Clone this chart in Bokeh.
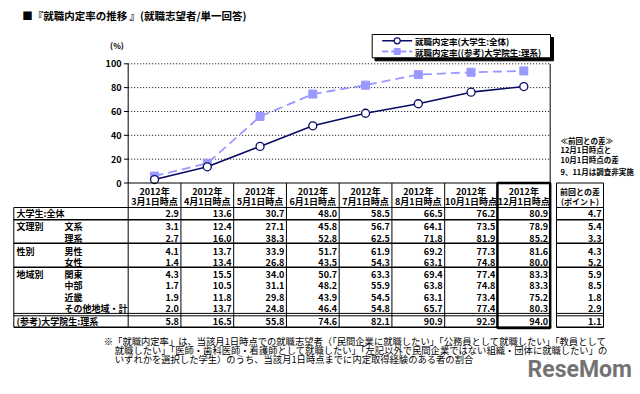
from bokeh.plotting import figure
from bokeh.models import Range1d, ColumnDataSource
from bokeh.core.properties import value
from bokeh.embed import file_html
from bokeh.resources import INLINE

# ---------------- data ----------------
year_label = "2012年"
months = ["3月1日時点", "4月1日時点", "5月1日時点", "6月1日時点",
          "7月1日時点", "8月1日時点", "10月1日時点", "12月1日時点"]
y_ticks = [0, 20, 40, 60, 80, 100]

rate_all = [2.9, 13.6, 30.7, 48.0, 58.5, 66.5, 76.2, 80.9]          # 大学生:全体
rate_humanities = [3.1, 12.4, 27.1, 45.8, 56.7, 64.1, 73.5, 78.9]   # 文系
rate_science = [2.7, 16.0, 38.3, 52.8, 62.5, 71.8, 81.9, 85.2]      # 理系
rate_male = [4.1, 13.7, 33.9, 51.7, 61.9, 69.2, 77.3, 81.6]         # 男性
rate_female = [1.4, 13.4, 26.8, 43.5, 54.3, 63.1, 74.8, 80.0]       # 女性
rate_kanto = [4.3, 15.5, 34.0, 50.7, 63.3, 69.4, 77.4, 83.3]        # 関東
rate_chubu = [1.7, 10.5, 31.1, 48.2, 55.9, 63.8, 74.8, 83.3]        # 中部
rate_kinki = [1.9, 11.8, 29.8, 43.9, 54.5, 63.1, 73.4, 75.2]        # 近畿
rate_other = [2.0, 13.7, 24.8, 46.4, 54.8, 65.7, 77.4, 80.3]        # その他地域・計
rate_grad = [5.8, 16.5, 55.8, 74.6, 82.1, 90.9, 92.9, 94.0]         # (参考)大学院生:理系
diff_points = [4.7, 5.4, 3.3, 4.3, 5.2, 5.9, 8.5, 1.8, 2.9, 1.1]

group_labels = ["大学生:全体", "文理別", "", "性別", "", "地域別", "", "", "", "(参考)大学院生:理系"]
sub_labels = ["", "文系", "理系", "男性", "女性", "関東", "中部", "近畿", "その他地域・計", ""]

series_names = ["就職内定率(大学生:全体)", "就職内定率((参考)大学院生:理系)"]
title_text = "■『就職内定率の推移 』(就職志望者/単一回答)"
unit_text = "(%)"
side_notes = ["≪前回との差≫", "12月1日時点と", "10月1日時点の差", "9、11月は調査非実施"]
diff_header = ["前回との差", "(ポイント)"]
footnote = [
    "※「就職内定率」は、当該月1日時点での就職志望者（「民間企業に就職したい」「公務員として就職したい」「教員として",
    "就職したい」「医師・歯科医師・看護師として就職したい」「左記以外で民間企業ではない組織・団体に就職したい」の",
    "いずれかを選択した学生）のうち、当該月1日時点までに内定取得経験のある者の割合",
]
watermark = "ReseMom"

table_rows = [rate_all, rate_humanities, rate_science, rate_male, rate_female,
              rate_kanto, rate_chubu, rate_kinki, rate_other, rate_grad]

# ---------------- layout ----------------
JP = "Noto Sans CJK JP"
NAVY = "#0b0b66"
LAV = "#9999ff"

W, H = 640, 394
COL_X0, COL_W = 154.05, 52.75          # pixel centre of first column, column width
PCT_Y0, PCT_PX = 182.5, 1.192          # pixel of 0 %, pixels per %

p = figure(width=W, height=H, output_backend="svg", toolbar_location=None,
           x_range=Range1d(0, W), y_range=Range1d(H, 0),
           x_axis_location=None, y_axis_location=None, min_border=0,
           outline_line_color=None, background_fill_color="white",
           border_fill_color="white")
p.grid.visible = False
p.extra_x_ranges = {"col": Range1d((0 - COL_X0) / COL_W, (W - COL_X0) / COL_W)}
p.extra_y_ranges = {"pct": Range1d((PCT_Y0 - H) / PCT_PX, (PCT_Y0 - 0) / PCT_PX)}


def txt(xs, ys, texts, size, align="left", xr="default", yr="default",
        color="black", weight="bold", font=JP, x_offset=0):
    src = ColumnDataSource(dict(x=list(xs), y=list(ys), t=list(texts)))
    p.text(x="x", y="y", text="t", source=src, text_font=value(font),
           text_font_size=value(f"{size}px"), text_font_style=weight,
           text_align=align, text_baseline="middle", text_color=color,
           x_range_name=xr, y_range_name=yr, x_offset=x_offset)


ncol = len(months)
idx = list(range(ncol))
col_edges = [i - 0.5 for i in range(ncol + 1)]

# ---- chart grid / frame ----
grid_vals = y_ticks[1:]
p.segment(x0=[-0.5] * len(grid_vals), x1=[ncol - 0.5] * len(grid_vals), y0=grid_vals, y1=grid_vals,
          x_range_name="col", y_range_name="pct", line_color="black", line_width=1, line_dash="1 2")
p.segment(x0=[-0.5, ncol - 0.5], x1=[-0.5, ncol - 0.5], y0=[0, 0], y1=[y_ticks[-1], y_ticks[-1]],
          x_range_name="col", y_range_name="pct", line_color="black", line_width=1)
# tick marks
p.segment(x0=[123.5] * len(y_ticks), x1=[127.7] * len(y_ticks), y0=y_ticks, y1=y_ticks,
          y_range_name="pct", line_color="black", line_width=1)
txt([121] * len(y_ticks), y_ticks, [str(t) for t in y_ticks], 9, align="right", yr="pct")
txt([116.5], [45], [unit_text], 8, align="center")

# ---- series ----
p.line(x=idx, y=rate_grad, x_range_name="col", y_range_name="pct",
       line_color=LAV, line_width=1.8, line_dash="9 5")
p.scatter(x=idx, y=rate_grad, x_range_name="col", y_range_name="pct",
          marker="square", size=8, fill_color=LAV, line_color=LAV)
p.line(x=idx, y=rate_all, x_range_name="col", y_range_name="pct",
       line_color=NAVY, line_width=1.6)
p.scatter(x=idx, y=rate_all, x_range_name="col", y_range_name="pct",
          marker="circle", size=8, fill_color="white", line_color=NAVY, line_width=1.3)

# ---- legend ----
p.quad(left=[374.5], right=[553], top=[37], bottom=[60.3], fill_color="black", line_color="black")
p.quad(left=[371.7], right=[550], top=[34], bottom=[57.3], fill_color="white", line_color="black", line_width=1)
p.line(x=[381.7, 411.7], y=[40.3, 40.3], line_color=NAVY, line_width=1.6)
p.scatter(x=[396.7], y=[40.3], marker="circle", size=6, fill_color="white", line_color=NAVY, line_width=1.2)
p.line(x=[381.7, 411.7], y=[51, 51], line_color=LAV, line_width=1.8, line_dash="6 3")
p.scatter(x=[396.7], y=[51], marker="square", size=6, fill_color=LAV, line_color=LAV)
txt([414.5, 414.5], [40.3, 51], series_names, 8.5)

# ---- title / notes ----
txt([21.7], [15], [title_text], 10.5, weight="bold")
txt([560] * 4, [140, 149.3, 158.6, 171], side_notes, 7.5)

# ---- table ----
TBL_L, DIFF_L, DIFF_R = 13.3, 556, 603
HDR_TOP, HDR_BOT = 182.5, 207
row_y = [213.3, 226.3, 237.5, 250.5, 262, 273.5, 285, 296.5, 308.3, 321.3]
sep_y = [219.3, 242.7, 266.8, 326.8]
TBL_BOT = 326.8

# horizontal lines
p.segment(x0=[127.7, DIFF_L], x1=[549.7, DIFF_R], y0=[HDR_TOP] * 2, y1=[HDR_TOP] * 2,
          line_color="black", line_width=1.2)
p.segment(x0=[TBL_L, DIFF_L], x1=[549.7, DIFF_R], y0=[HDR_BOT] * 2, y1=[HDR_BOT] * 2,
          line_color="black", line_width=1)
for yy in sep_y:
    p.segment(x0=[TBL_L, DIFF_L], x1=[549.7, DIFF_R], y0=[yy] * 2, y1=[yy] * 2,
              line_color="black", line_width=1.5)
for yy in [312.9, 315.3]:
    p.segment(x0=[TBL_L, DIFF_L], x1=[549.7, DIFF_R], y0=[yy] * 2, y1=[yy] * 2,
              line_color="black", line_width=1)
# vertical lines
p.segment(x0=col_edges, x1=col_edges, y0=[HDR_TOP] * len(col_edges), y1=[TBL_BOT] * len(col_edges),
          x_range_name="col", line_color="black", line_width=1)
p.segment(x0=[TBL_L, DIFF_L, DIFF_R], x1=[TBL_L, DIFF_L, DIFF_R], y0=[HDR_BOT, HDR_TOP, HDR_TOP],
          y1=[TBL_BOT] * 3, line_color="black", line_width=1)
# highlighted last column box
p.quad(left=[ncol - 1.5], right=[ncol - 0.5], top=[HDR_TOP], bottom=[TBL_BOT + 0.8],
       x_range_name="col", fill_color=None, line_color="black", line_width=2.5)

# header texts
txt(idx, [190.5] * ncol, [year_label] * ncol, 9, align="center", xr="col")
txt(idx, [200.5] * ncol, months, 9, align="center", xr="col")
txt([579.5] * 2, [190.5, 200.5], diff_header, 8, align="center")

# row labels
txt([16] * len(row_y), row_y, group_labels, 9)
txt([64] * len(row_y), row_y, sub_labels, 9)

# cell values
for r, vals in enumerate(table_rows):
    txt([i + 0.5 for i in idx], [row_y[r]] * ncol, [f"{v:.1f}" for v in vals], 9,
        align="right", xr="col", x_offset=-2)
txt([DIFF_R - 2] * len(diff_points), row_y, [f"{v:.1f}" for v in diff_points], 9, align="right")

# footnote
txt([103.3, 114.3, 114.3], [340, 349.3, 358.3], footnote, 9.3, weight="normal")

# watermark
txt([527], [369], [watermark], 23, color="#737373", font="Roboto", weight="bold")

open("out.html", "w").write(file_html(p, INLINE))
